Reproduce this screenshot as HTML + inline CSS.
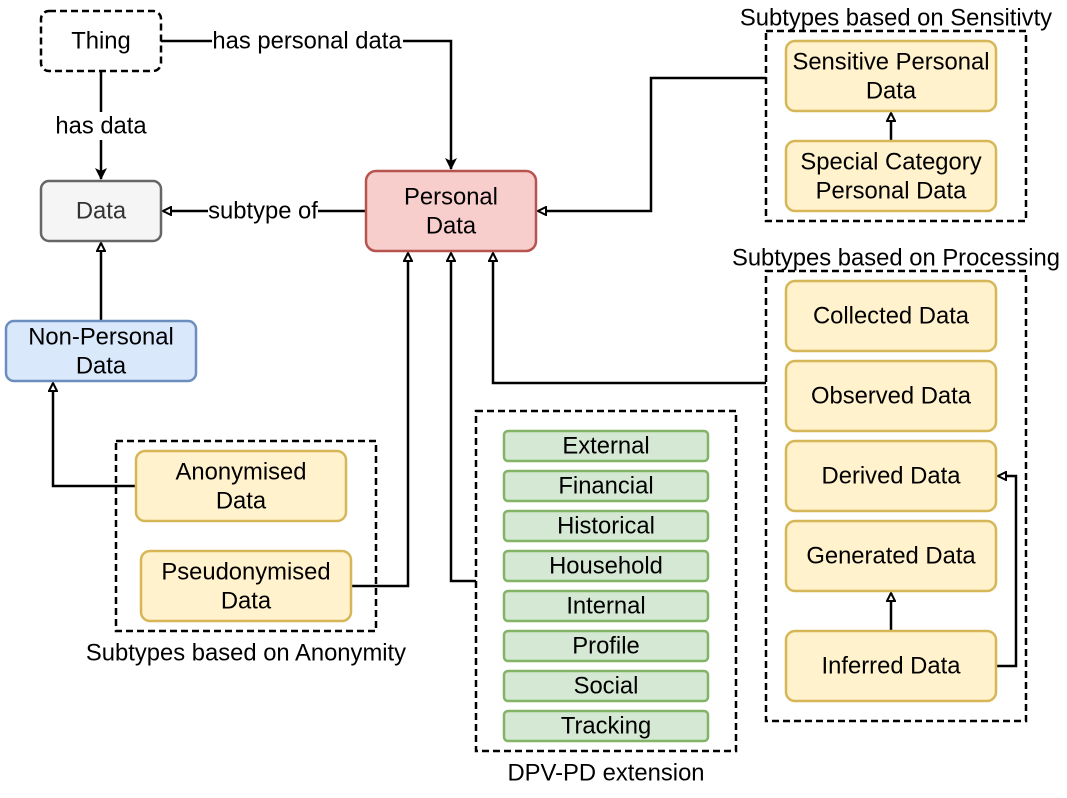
<!DOCTYPE html>
<html><head><meta charset="utf-8"><style>
html,body{margin:0;padding:0;background:#fff}
svg text{font-family:"Liberation Sans",Arial,sans-serif;font-size:23.8px;fill:#000;text-anchor:middle;dominant-baseline:central}
</style></head><body>
<svg width="1067" height="793" viewBox="0 0 1067 793" xmlns="http://www.w3.org/2000/svg">
<defs>
<marker id="f" viewBox="0 0 12 12" refX="11" refY="6" markerWidth="12" markerHeight="12" markerUnits="userSpaceOnUse" orient="auto">
<path d="M0,0 L12,6 L0,12 L3,6 Z" fill="#000"/></marker>
<marker id="o" viewBox="0 0 10 10" refX="9" refY="5" markerWidth="10" markerHeight="10" markerUnits="userSpaceOnUse" orient="auto">
<path d="M1,1 L9,5 L1,9 Z" fill="#fff" stroke="#000" stroke-width="2"/></marker>
</defs>
<g fill="none" stroke="#000" stroke-width="2.5" stroke-dasharray="7,4">
<rect x="41" y="11" width="120" height="60" rx="8"/>
<rect x="766" y="31" width="260" height="190"/>
<rect x="766" y="271" width="260" height="450"/>
<rect x="116" y="441" width="260" height="190"/>
<rect x="476" y="411" width="260" height="340"/>
</g>
<g fill="none" stroke="#000" stroke-width="2.5">
<path d="M101,71 V179" marker-end="url(#f)"/>
<path d="M161,41 H451 V169" marker-end="url(#f)"/>
<path d="M366,211 H163" marker-end="url(#o)"/>
<path d="M101,321 V243" marker-end="url(#o)"/>
<path d="M766,78 H651 V211 H538" marker-end="url(#o)"/>
<path d="M891,141 V113" marker-end="url(#o)"/>
<path d="M891,631 V593" marker-end="url(#o)"/>
<path d="M996,666 H1016 V476 H998" marker-end="url(#o)"/>
<path d="M766,383 H493 V253" marker-end="url(#o)"/>
<path d="M136,486 H53 V383" marker-end="url(#o)"/>
<path d="M351,586 H408 V253" marker-end="url(#o)"/>
<path d="M476,581 H451 V253" marker-end="url(#o)"/>
</g>
<g stroke-width="2.5">
<rect x="41" y="181" width="120" height="60" rx="8" fill="#f5f5f5" stroke="#666"/>
<rect x="366" y="171" width="170" height="80" rx="10" fill="#f8cecc" stroke="#b85450"/>
<rect x="6" y="321" width="190" height="60" rx="8" fill="#dae8fc" stroke="#6c8ebf"/>
<g fill="#fff2cc" stroke="#d6b656">
<rect x="786" y="41" width="210" height="70" rx="9"/>
<rect x="786" y="141" width="210" height="70" rx="9"/>
<rect x="786" y="281" width="210" height="70" rx="9"/>
<rect x="786" y="361" width="210" height="70" rx="9"/>
<rect x="786" y="441" width="210" height="70" rx="9"/>
<rect x="786" y="521" width="210" height="70" rx="9"/>
<rect x="786" y="631" width="210" height="70" rx="9"/>
<rect x="136" y="451" width="210" height="70" rx="9"/>
<rect x="141" y="551" width="210" height="70" rx="9"/>
</g>
<g fill="#d5e8d4" stroke="#82b366">
<rect x="504" y="431" width="204" height="30" rx="4"/>
<rect x="504" y="471" width="204" height="30" rx="4"/>
<rect x="504" y="511" width="204" height="30" rx="4"/>
<rect x="504" y="551" width="204" height="30" rx="4"/>
<rect x="504" y="591" width="204" height="30" rx="4"/>
<rect x="504" y="631" width="204" height="30" rx="4"/>
<rect x="504" y="671" width="204" height="30" rx="4"/>
<rect x="504" y="711" width="204" height="30" rx="4"/>
</g>
</g>
<g fill="#fff">
<rect x="55" y="112" width="93" height="28"/>
<rect x="212" y="27" width="191" height="28"/>
<rect x="208" y="197" width="110" height="28"/>
</g>
<text x="101" y="41">Thing</text>
<text x="101" y="126">has data</text>
<text x="307" y="41">has personal data</text>
<text x="263" y="211">subtype of</text>
<text x="101" y="211" style="fill:#333">Data</text>
<text x="451" y="197">Personal</text><text x="451" y="226">Data</text>
<text x="101" y="337">Non-Personal</text><text x="101" y="366">Data</text>
<text x="896" y="18">Subtypes based on Sensitivty</text>
<text x="891" y="62">Sensitive Personal</text><text x="891" y="91">Data</text>
<text x="891" y="162">Special Category</text><text x="891" y="191">Personal Data</text>
<text x="896" y="258">Subtypes based on Processing</text>
<text x="891" y="316">Collected Data</text>
<text x="891" y="396">Observed Data</text>
<text x="891" y="476">Derived Data</text>
<text x="891" y="556">Generated Data</text>
<text x="891" y="666">Inferred Data</text>
<text x="241" y="472">Anonymised</text><text x="241" y="501">Data</text>
<text x="246" y="572">Pseudonymised</text><text x="246" y="601">Data</text>
<text x="246" y="653">Subtypes based on Anonymity</text>
<text x="606" y="446">External</text>
<text x="606" y="486">Financial</text>
<text x="606" y="526">Historical</text>
<text x="606" y="566">Household</text>
<text x="606" y="606">Internal</text>
<text x="606" y="646">Profile</text>
<text x="606" y="686">Social</text>
<text x="606" y="726">Tracking</text>
<text x="606" y="773">DPV-PD extension</text>
</svg>
</body></html>
